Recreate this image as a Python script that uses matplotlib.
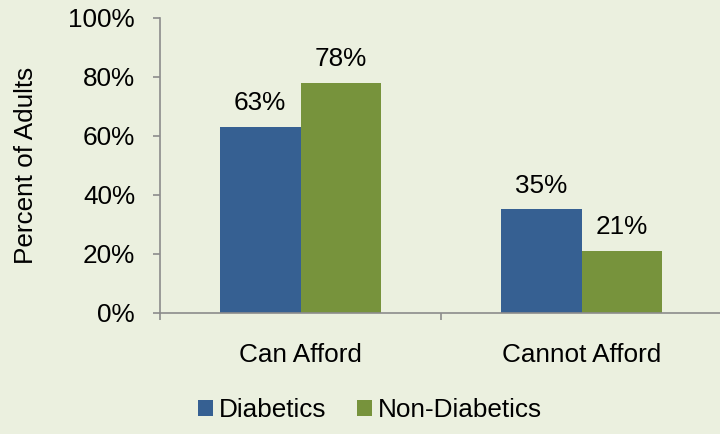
import matplotlib
matplotlib.use("Agg")
import matplotlib.pyplot as plt
import numpy as np

categories = ["Can Afford", "Cannot Afford"]
series_names = ["Diabetics", "Non-Diabetics"]
diabetics = [63, 35]
non_diabetics = [78, 21]
y_ticks = [0, 20, 40, 60, 80, 100]

BG = "#EBF0DF"
BLUE = "#366092"
GREEN = "#77933C"
AX = "#8C8C8C"
FS = 18.8

plt.rcParams['font.family'] = ['Liberation Sans', 'DejaVu Sans']

fig = plt.figure(figsize=(7.2, 4.34), dpi=100, facecolor=BG)
ax = fig.add_axes([160/720, 121.5/434, 562/720, 294.5/434])
ax.set_facecolor(BG)

x = np.arange(len(categories))
w = 0.288
b1 = ax.bar(x - w/2, diabetics, w, color=BLUE, label=series_names[0])
b2 = ax.bar(x + w/2, non_diabetics, w, color=GREEN, label=series_names[1])

for bars, vals in ((b1, diabetics), (b2, non_diabetics)):
    for rect, v in zip(bars, vals):
        ax.annotate(f"{v}%", (rect.get_x() + rect.get_width()/2, v),
                    xytext=(0, 12), textcoords="offset points",
                    ha="center", va="baseline", fontsize=FS, color="black")

ax.set_xlim(-0.5, 1.5)
ax.set_ylim(0, 100)
ax.set_yticks(y_ticks)
ax.set_yticklabels([f"{t}%" for t in y_ticks])
ax.set_xticks([-0.5, 0.5, 1.5])
ax.set_xticklabels([])
ax.set_xticks(x, minor=True)
ax.set_xticklabels(categories, minor=True)
ax.tick_params(axis="x", which="major", direction="out", length=5, color=AX, width=1.2)
ax.tick_params(axis="x", which="minor", length=0, pad=22, labelsize=FS)
ax.tick_params(axis="y", direction="out", length=5, color=AX, width=1.2, pad=13, labelsize=FS)

for s in ("top", "right"):
    ax.spines[s].set_visible(False)
for s in ("left", "bottom"):
    ax.spines[s].set_color(AX)
    ax.spines[s].set_linewidth(1.2)

fig.text(26/720, 1 - 165/434, "Percent of Adults", rotation=90, ha="center",
         va="center", fontsize=FS)

fig.legend(handles=[b1, b2], labels=series_names, loc="center",
           bbox_to_anchor=(370/720, 1 - 410/434), ncol=2, frameon=False,
           fontsize=FS, handlelength=0.55, handleheight=0.55,
           handletextpad=0.22, columnspacing=1.2, borderpad=0)

fig.savefig("out.png", dpi=100, facecolor=BG)
